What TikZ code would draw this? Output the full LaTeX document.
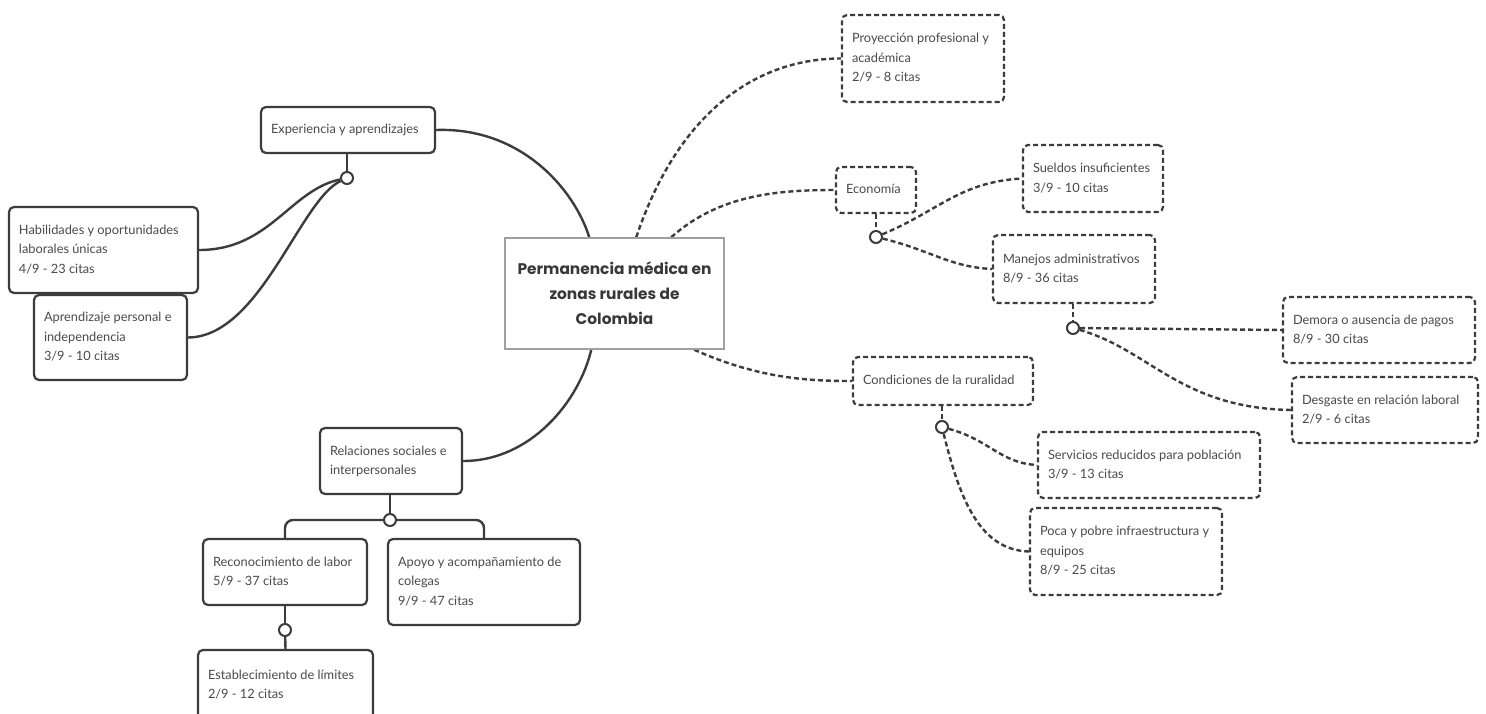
\documentclass[tikz,border=0pt]{standalone}
\usepackage{fontspec}
\setmainfont{Lato}
\newfontfamily\titlefont{Poppins}
\usetikzlibrary{backgrounds}
\definecolor{linec}{HTML}{3C3C3C}
\definecolor{textc}{HTML}{4A4A4A}
\definecolor{centc}{HTML}{A0A0A0}
\newcommand\bxt[2]{\makebox[#1pt][l]{\begin{tabular}{@{}l@{}}#2\end{tabular}}}
\tikzset{
  box/.style={rectangle, rounded corners=5pt, line width=2.2pt, draw=linec, fill=white,
    inner xsep=10pt, inner ysep=0pt, text=textc,
    font=\fontsize{12.8}{19.5}\selectfont},
  solidbox/.style={box},
  dashbox/.style={box, dash pattern=on 5pt off 3pt},
  centralbox/.style={rectangle, draw=centc, line width=1.5pt, fill=white, align=center,
    text=black!78, font=\titlefont\bfseries\fontsize{15.4}{25}\selectfont},
  junc/.style={circle, draw=linec, line width=2pt, fill=white, minimum size=12pt, inner sep=0pt},
  sline/.style={draw=linec, line width=2.4pt},
  dline/.style={draw=linec, line width=2.4pt, dash pattern=on 5pt off 3pt},
}
\begin{document}
\begin{tikzpicture}[x=1pt,y=-1pt]
\useasboundingbox (0,0) rectangle (1486,714);
\clip (0,0) rectangle (1486,714);

% central
\node[centralbox, minimum width=219pt, minimum height=111pt] (central) at (614.5,293.5)
  {Permanencia médica en\\zonas rurales de\\Colombia};

% left solid branch
\node[solidbox, minimum height=46pt] (exp) at (348,130) {\bxt{154}{Experiencia y aprendizajes}};
\node[solidbox, minimum height=86pt] (hab) at (103.5,250) {\bxt{169}{Habilidades y oportunidades\\laborales únicas\\4/9 - 23 citas}};
\node[solidbox, minimum height=85pt] (apr) at (110.5,337.5) {\bxt{133}{Aprendizaje personal e\\independencia\\3/9 - 10 citas}};
\node[solidbox, minimum height=66pt] (rel) at (391,461) {\bxt{122}{Relaciones sociales e\\interpersonales}};
\node[solidbox, minimum height=66pt] (rec) at (285,572) {\bxt{144}{Reconocimiento de labor\\5/9 - 37 citas}};
\node[solidbox, minimum height=86pt] (apo) at (484,582) {\bxt{172}{Apoyo y acompañamiento de\\colegas\\9/9 - 47 citas}};
\node[solidbox, minimum height=70pt] (est) at (285.5,685) {\bxt{155}{Establecimiento de límites\\2/9 - 12 citas}};

% right dashed branch
\node[dashbox, minimum height=87pt] (proy) at (923,58.5) {\bxt{142}{Proyección profesional y\\académica\\2/9 - 8 citas}};
\node[dashbox, minimum height=46pt] (eco) at (876,190) {\bxt{60}{Economía}};
\node[dashbox, minimum height=67pt] (sue) at (1093,178.5) {\bxt{120}{Sueldos insuficientes\\3/9 - 10 citas}};
\node[dashbox, minimum height=68pt] (man) at (1074,269) {\bxt{142}{Manejos administrativos\\8/9 - 36 citas}};
\node[dashbox, minimum height=66pt] (dem) at (1379,330) {\bxt{172}{Demora o ausencia de pagos\\8/9 - 30 citas}};
\node[dashbox, minimum height=66pt] (des) at (1385,410) {\bxt{166}{Desgaste en relación laboral\\2/9 - 6 citas}};
\node[dashbox, minimum height=48pt] (con) at (943,381) {\bxt{160}{Condiciones de la ruralidad}};
\node[dashbox, minimum height=66pt] (ser) at (1149,465) {\bxt{202}{Servicios reducidos para población\\3/9 - 13 citas}};
\node[dashbox, minimum height=87pt] (poc) at (1126,551.5) {\bxt{172}{Poca y pobre infraestructura y\\equipos\\8/9 - 25 citas}};

% junctions
\node[junc] (jexp) at (347,178) {};
\node[junc] (jrel) at (390,520) {};
\node[junc] (jrec) at (285,630) {};
\node[junc] (jeco) at (876,237) {};
\node[junc] (jman) at (1073,328) {};
\node[junc] (jcon) at (942,427) {};

\begin{pgfonlayer}{background}
\fill[white] (0,0) rectangle (1486,714);
% central connectors
\draw[sline] (exp.east) .. controls +(85,-3) and +(-15,-48) .. ([xshift=85pt]central.north west);
\draw[sline] (rel.east) .. controls +(68,0) and +(-12,51) .. ([xshift=87pt]central.south west);
\draw[dline] ([xshift=132pt]central.north west) .. controls +(43,-128) and +(-82,0) .. (proy.west);
\draw[dline] ([xshift=167pt]central.north west) .. controls +(48,-43) and +(-56,0) .. (eco.west);
\draw[dline] ([xshift=190pt]central.south west) .. controls +(65,29) and +(-43,0) .. (con.west);

% experiencia
\draw[sline] (exp.south -| jexp) -- (jexp);
\draw[sline] (jexp) .. controls (290,190) and (270,250) .. (hab.east);
\draw[sline] (jexp) .. controls (300,200) and (260,337) .. (apr.east);

% relaciones
\draw[sline] (rel.south -| jrel) -- (jrel);
\draw[sline, rounded corners=8pt] (jrel.west) -- (rec.north |- jrel) -- (rec.north);
\draw[sline, rounded corners=8pt] (jrel.east) -- (apo.north |- jrel) -- (apo.north);
\draw[sline] (rec.south) -- (jrec);
\draw[sline] (jrec) -- (est.north);

% economia
\draw[dline] (eco.south) -- (jeco);
\draw[dline] (jeco) .. controls (940,210) and (960,182) .. (sue.west);
\draw[dline] (jeco) .. controls (930,250) and (950,267) .. (man.west);
\draw[dline] (man.south -| jman) -- (jman);
\draw[dline] (jman) -- (dem.west);
\draw[dline] (jman) .. controls (1150,350) and (1180,408) .. (des.west);

% condiciones
\draw[dline] (con.south -| jcon) -- (jcon);
\draw[dline] (jcon) .. controls (990,440) and (1000,463) .. (ser.west);
\draw[dline] (jcon) .. controls (960,500) and (980,550) .. (poc.west);
\end{pgfonlayer}
\end{tikzpicture}
\end{document}
